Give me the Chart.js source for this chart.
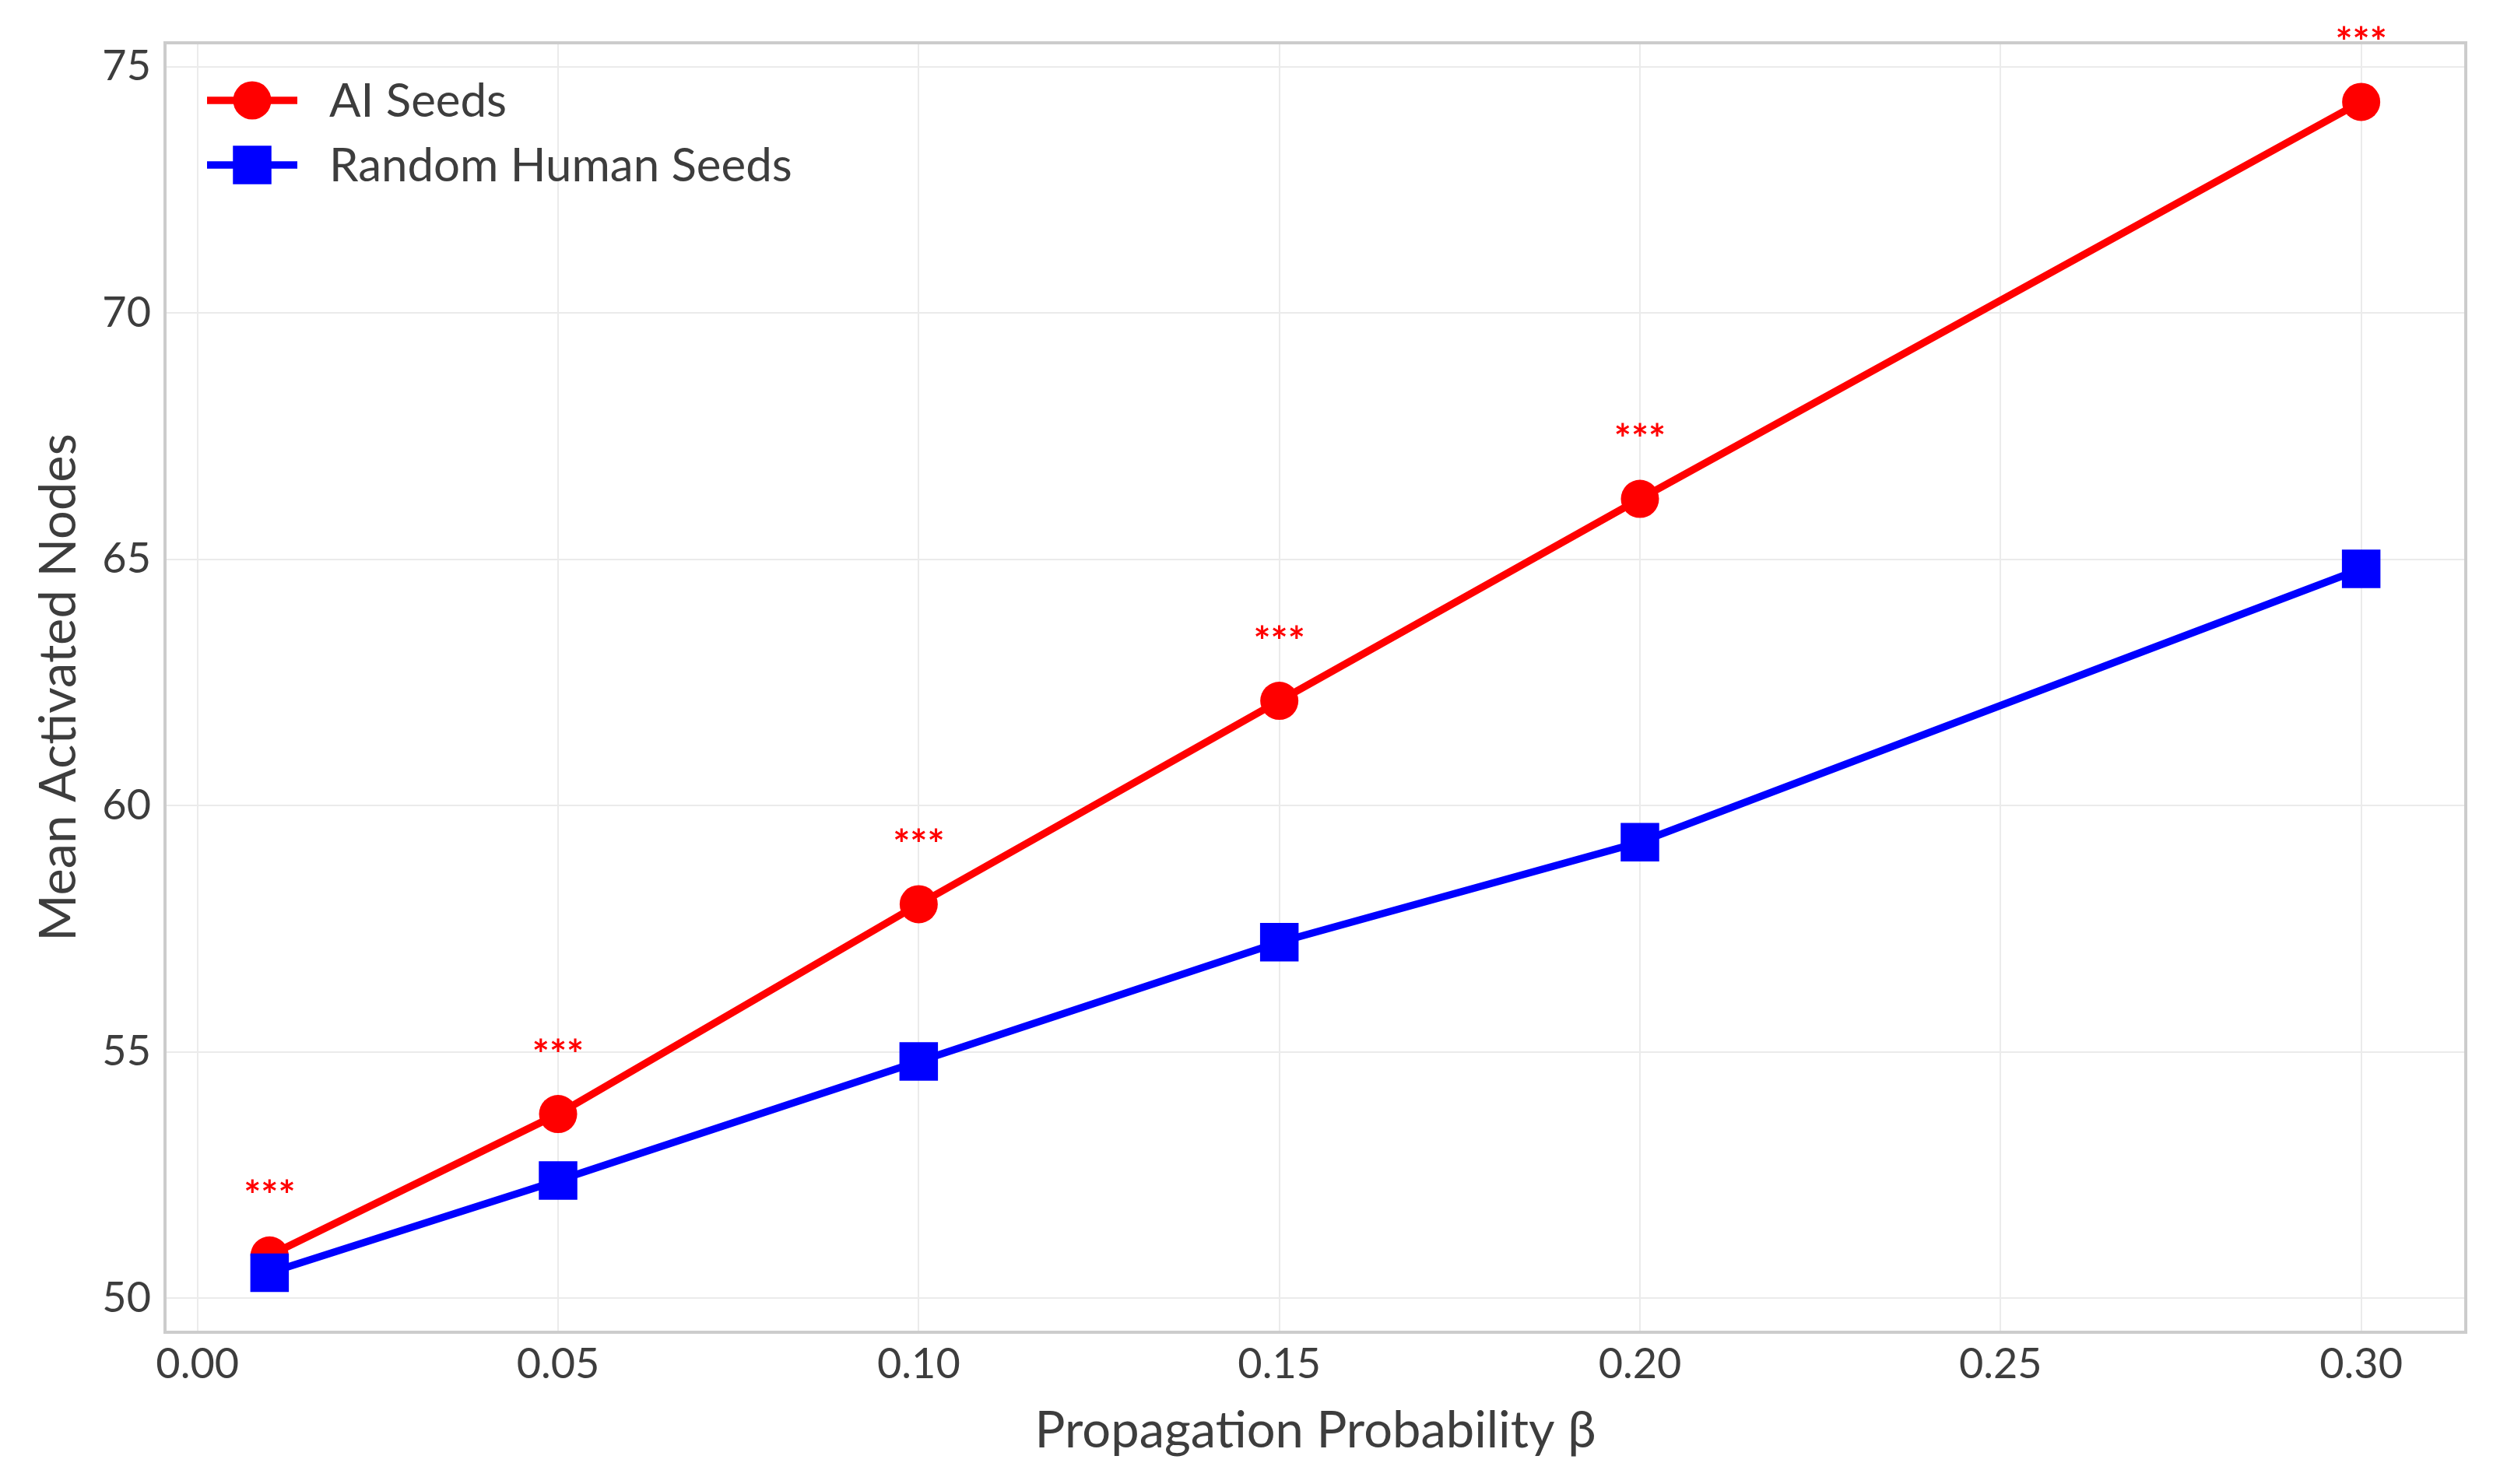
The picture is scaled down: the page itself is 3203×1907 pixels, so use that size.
<!DOCTYPE html>
<html>
<head>
<meta charset="utf-8">
<script src="https://cdn.jsdelivr.net/npm/chart.js@4.4.1/dist/chart.umd.min.js"></script>
<style>
  html, body { margin: 0; padding: 0; background: #fff; }
</style>
</head>
<body>
<canvas id="chart" width="3203" height="1907"></canvas>
<script>
// data
const betaValues = [0.01, 0.05, 0.10, 0.15, 0.20, 0.30];
const aiSeeds = [50.87, 53.74, 58.0, 62.13, 66.23, 74.29];
const humanSeeds = [50.52, 52.39, 54.81, 57.23, 59.26, 64.81];
const significance = ["***", "***", "***", "***", "***", "***"];
const seriesNames = ["AI Seeds", "Random Human Seeds"];
const xTickValues = [0.00, 0.05, 0.10, 0.15, 0.20, 0.25, 0.30];
const yTickValues = [50, 55, 60, 65, 70, 75];

const FONT = "Lato";
const TEXT = "#3d3d3d";

const toPoints = ys => betaValues.map((x, i) => ({ x: x, y: ys[i] }));

// grey box round the plot
const frame = {
  id: "frame",
  beforeDatasetsDraw(chart) {
    const { ctx, chartArea: a } = chart;
    ctx.save();
    ctx.strokeStyle = "#cccccc";
    ctx.lineWidth = 4;
    ctx.strokeRect(a.left, a.top, a.right - a.left, a.bottom - a.top);
    ctx.restore();
  }
};

// *** markers above the AI points
const stars = {
  id: "stars",
  afterDatasetsDraw(chart) {
    const { ctx } = chart;
    const meta = chart.getDatasetMeta(0);
    ctx.save();
    ctx.fillStyle = "#ff0000";
    ctx.font = "bold 52px " + FONT;
    ctx.textAlign = "center";
    ctx.textBaseline = "alphabetic";
    meta.data.forEach((pt, i) => {
      ctx.fillText(significance[i], pt.x, pt.y - 58);
    });
    ctx.restore();
  }
};

// legend drawn inside the plot, line + marker like matplotlib
const innerLegend = {
  id: "innerLegend",
  afterDraw(chart) {
    const { ctx, chartArea: a } = chart;
    ctx.save();
    chart.data.datasets.forEach((ds, i) => {
      const y = a.top + 74 + i * 83;
      ctx.strokeStyle = ds.borderColor;
      ctx.lineWidth = ds.borderWidth;
      ctx.beginPath();
      ctx.moveTo(a.left + 54, y);
      ctx.lineTo(a.left + 170, y);
      ctx.stroke();
      ctx.fillStyle = ds.backgroundColor;
      const cx = a.left + 112;
      if (ds.pointStyle === "circle") {
        ctx.beginPath();
        ctx.arc(cx, y, ds.pointRadius, 0, Math.PI * 2);
        ctx.fill();
      } else {
        const s = ds.pointRadius * Math.SQRT1_2;
        ctx.fillRect(cx - s, y - s, 2 * s, 2 * s);
      }
      ctx.fillStyle = TEXT;
      ctx.font = "60px " + FONT;
      ctx.textAlign = "left";
      ctx.textBaseline = "middle";
      ctx.fillText(ds.label, a.left + 211, y + 2);
    });
    ctx.restore();
  }
};

new Chart(document.getElementById("chart"), {
  type: "line",
  data: {
    datasets: [
      {
        label: seriesNames[0],
        data: toPoints(aiSeeds),
        borderColor: "#ff0000",
        backgroundColor: "#ff0000",
        borderWidth: 9.5,
        pointStyle: "circle",
        pointRadius: 24.5,
        pointHoverRadius: 24.5,
        pointBorderWidth: 0,
        order: 1,
        clip: false
      },
      {
        label: seriesNames[1],
        data: toPoints(humanSeeds),
        borderColor: "#0000ff",
        backgroundColor: "#0000ff",
        borderWidth: 9.5,
        pointStyle: "rect",
        pointRadius: 35,
        pointHoverRadius: 35,
        pointBorderWidth: 0,
        order: 0,
        clip: false
      }
    ]
  },
  options: {
    responsive: false,
    devicePixelRatio: 1,
    animation: false,
    layout: { padding: { top: 55, right: 32, left: 0, bottom: 0 } },
    plugins: {
      legend: { display: false },
      tooltip: { enabled: false }
    },
    scales: {
      x: {
        type: "linear",
        min: -0.0045,
        max: 0.3145,
        afterBuildTicks: s => { s.ticks = xTickValues.map(v => ({ value: v })); },
        afterFit: s => { s.height = 195; },
        ticks: {
          callback: v => v.toFixed(2),
          font: { family: FONT, size: 54 },
          color: TEXT,
          padding: 9,
          maxRotation: 0,
          autoSkip: false
        },
        grid: { color: "#ebebeb", lineWidth: 2, drawTicks: false },
        border: { display: false },
        title: {
          display: true,
          text: "Propagation Probability β",
          font: { family: FONT, size: 65 },
          color: TEXT,
          padding: { top: 0, bottom: 29 }
        }
      },
      y: {
        min: 49.31,
        max: 75.49,
        afterBuildTicks: s => { s.ticks = yTickValues.map(v => ({ value: v })); },
        afterFit: s => { s.width = 212; },
        ticks: {
          callback: v => String(v),
          font: { family: FONT, size: 54 },
          color: TEXT,
          padding: 18
        },
        grid: { color: "#ebebeb", lineWidth: 2, drawTicks: false },
        border: { display: false },
        title: {
          display: true,
          text: "Mean Activated Nodes",
          font: { family: FONT, size: 65 },
          color: TEXT,
          padding: { top: 37, bottom: 0 }
        }
      }
    }
  },
  plugins: [frame, stars, innerLegend]
});
</script>
</body>
</html>
